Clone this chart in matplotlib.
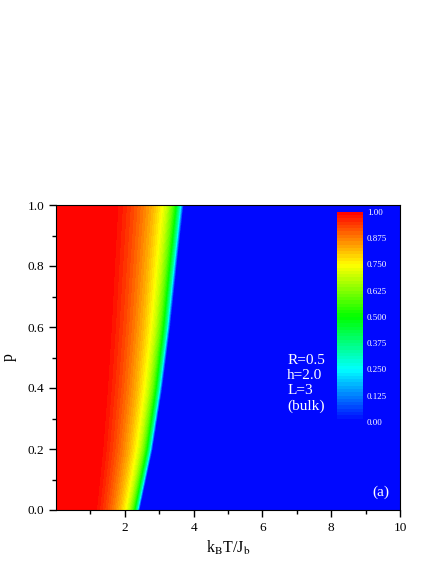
import numpy as np
import matplotlib.pyplot as plt
from matplotlib.colors import LinearSegmentedColormap

p_pts = [0.0, 0.2, 0.4, 0.6, 0.8, 1.0]
tc_pts = [2.42, 2.80, 3.08, 3.31, 3.50, 3.70]

t_red = [0.0, 0.45, 0.52, 0.60, 0.68, 0.76, 0.82, 0.87, 0.91, 0.94, 0.97, 1.0]
m_red = [1.0, 1.0, 0.97, 0.93, 0.88, 0.82, 0.76, 0.69, 0.60, 0.50, 0.33, 0.0]

cb_ticks = [0.0, 0.125, 0.25, 0.375, 0.5, 0.625, 0.75, 0.875, 1.0]
cb_labels = ['0.00', '0.125', '0.250', '0.375', '0.500', '0.625', '0.750', '0.875', '1.00']

plt.rcParams['font.family'] = ['Liberation Serif', 'DejaVu Serif']
plt.rcParams['mathtext.fontset'] = 'stix'

T = np.linspace(0, 10, 500)
p = np.linspace(0, 1, 120)
TT, PP = np.meshgrid(T, p)
tc = np.interp(PP, p_pts, tc_pts)
M = np.interp(TT / tc, t_red, m_red, right=0.0)

cmap = LinearSegmentedColormap.from_list(
    'rainbow_origin',
    [(0.0, '#0000ff'), (0.25, '#00ffff'), (0.5, '#00ff00'),
     (0.75, '#ffff00'), (1.0, '#ff0000')])

fig = plt.figure(figsize=(4.36, 5.64), dpi=100)
ax = fig.add_axes([56 / 436, 54 / 564, 344 / 436, 305 / 564])
cs = ax.contourf(TT, PP, M, levels=np.linspace(0, 1, 65), cmap=cmap)
ax.set_xlim(0, 10)
ax.set_ylim(0, 1)
ax.set_xticks([2, 4, 6, 8, 10])
ax.set_xticks([1, 3, 5, 7, 9], minor=True)
ax.set_yticks(np.arange(0, 1.01, 0.2))
ax.set_yticks(np.arange(0.1, 1.0, 0.2), minor=True)
ax.yaxis.set_major_formatter(plt.FormatStrFormatter('%.1f'))
ax.tick_params(direction='out', which='major', length=5, width=1, labelsize=9.5)
ax.tick_params(direction='out', which='minor', length=3, width=1)
ax.set_xlabel(r'k$_\mathrm{B}$T/J$_\mathrm{b}$', fontsize=11.5)
ax.set_ylabel('p', fontsize=11.5, labelpad=8)

ax.text(0.672, 0.51, 'R=0.5\nh=2.0\nL=3\n(bulk)', transform=ax.transAxes,
        color='white', fontsize=11, va='top', ha='left', linespacing=1.2)
ax.text(0.97, 0.035, '(a)', transform=ax.transAxes, color='white',
        fontsize=11, ha='right', va='bottom')

cax = ax.inset_axes([0.817, 0.289, 0.075, 0.689])
cb = fig.colorbar(cs, cax=cax, ticks=cb_ticks)
cb.outline.set_visible(False)
cb.ax.set_yticklabels(cb_labels)
cb.ax.tick_params(length=0, labelsize=6.5, labelcolor='white', pad=3)

fig.savefig('out.png', dpi=100)
